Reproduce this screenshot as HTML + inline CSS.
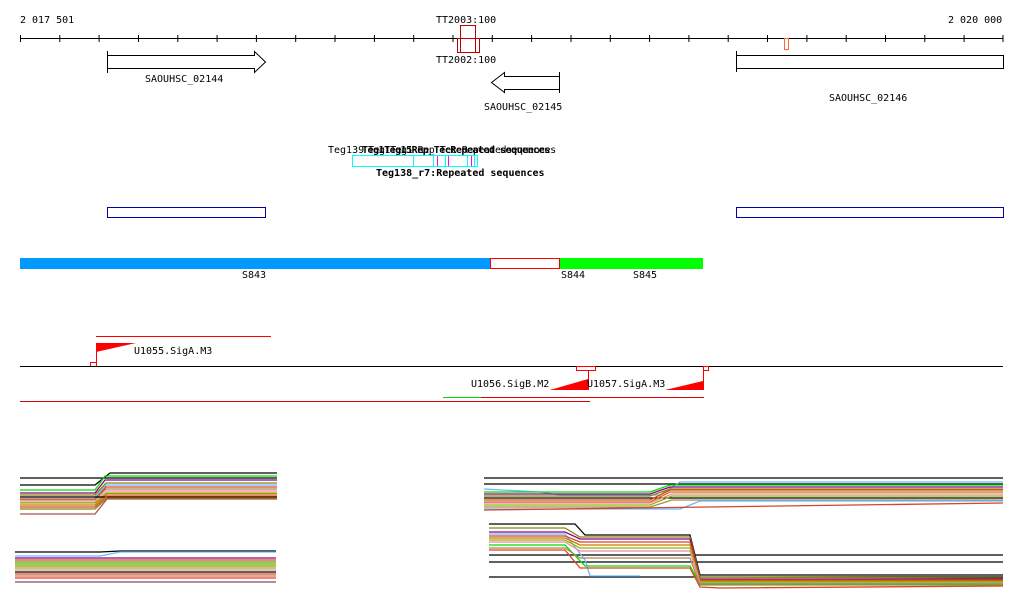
<!DOCTYPE html>
<html><head><meta charset="utf-8"><style>
html,body{margin:0;padding:0;background:#fff;}
svg{display:block;}
text{font-family:"DejaVu Sans Mono","Liberation Mono",monospace;font-size:10px;fill:#000;}
</style></head><body>
<svg width="1024" height="611" viewBox="0 0 1024 611" xmlns="http://www.w3.org/2000/svg">
<text x="20" y="23">2 017 501</text>
<text x="948" y="23">2 020 000</text>
<text x="436" y="23">TT2003:100</text>
<text x="436" y="63">TT2002:100</text>
<line x1="20" y1="38.5" x2="1003" y2="38.5" stroke="#000"/>
<g stroke="#000">
<path d="M20.5 35v7M59.8 35v7M99.1 35v7M138.5 35v7M177.8 35v7M217.1 35v7M256.4 35v7M295.7 35v7M335 35v7M374.4 35v7M413.7 35v7M453 35v7M492.3 35v7M531.6 35v7M571 35v7M610.3 35v7M649.6 35v7M688.9 35v7M728.2 35v7M767.5 35v7M806.9 35v7M846.2 35v7M885.5 35v7M924.8 35v7M964.1 35v7M1003 35v7"/>
</g>
<rect x="460.5" y="25.5" width="15" height="27" fill="none" stroke="#b00" />
<rect x="457.5" y="38.5" width="22" height="14" fill="none" stroke="#b00" />
<rect x="784.5" y="38.5" width="4" height="11" fill="none" stroke="#f63" />
<!-- genes -->
<path d="M107.5 51v22M107.5 55.5H255l11 6.5-11 11H107.5" fill="none" stroke="#000" style="display:none"/>
<path d="M107.5 51v22M107.5 55.5H254.5V51.5l11 10.5-11 10.5V68.5H107.5" fill="none" stroke="#000"/>
<text x="145" y="82">SAOUHSC_02144</text>
<path d="M559.5 72v21M559.5 76.5H504.5V72.5l-13 10 13 10V89.5h55" fill="none" stroke="#000"/>
<text x="484" y="110">SAOUHSC_02145</text>
<path d="M736.5 51v21" stroke="#000"/>
<rect x="736.5" y="55.5" width="267" height="13" fill="none" stroke="#000"/>
<text x="829" y="101">SAOUHSC_02146</text>
<!-- repeats -->
<text x="328" y="153">Teg139</text>
<text x="362" y="153" style="letter-spacing:-0.5px;font-weight:bold">Teg1Teg15Rep_TecRepeated sequences</text>
<text x="368" y="153" style="letter-spacing:-0.5px">Teg1Teg1 Rep_Tec Repeatedsequences</text>
<rect x="352.5" y="155.5" width="125" height="11" fill="none" stroke="#0ff"/>
<path d="M413.5 156v10M433.5 156v10M445.5 156v10M467.5 156v10M474.5 156v10" stroke="#0ff"/>
<path d="M437.5 156v10M448.5 156v10M471.5 156v10" stroke="#f0f"/>
<text x="376" y="176" style="font-weight:bold">Teg138_r7:Repeated sequences</text>
<rect x="107.5" y="207.5" width="158" height="10" fill="none" stroke="#00a"/>
<rect x="736.5" y="207.5" width="267" height="10" fill="none" stroke="#00a"/>
<!-- operons -->
<rect x="20" y="258" width="470" height="11" fill="#0099ff"/>
<rect x="490.5" y="258.5" width="69" height="10" fill="#fff" stroke="#f00"/>
<rect x="560" y="258" width="143" height="11" fill="#00ff00"/>
<text x="242" y="278">S843</text>
<text x="561" y="278">S844</text>
<text x="633" y="278">S845</text>
<!-- promoters -->
<line x1="96" y1="336.5" x2="271" y2="336.5" stroke="#f00"/>
<line x1="96.5" y1="343" x2="96.5" y2="362" stroke="#f00"/>
<path d="M96 343h40l-40 9z" fill="#f00"/>
<rect x="90.5" y="362.5" width="6" height="4" fill="none" stroke="#f00"/>
<text x="134" y="354">U1055.SigA.M3</text>
<line x1="20" y1="366.5" x2="1003" y2="366.5" stroke="#000"/>
<rect x="576.5" y="366.5" width="19" height="4" fill="none" stroke="#f00"/>
<line x1="588.5" y1="370" x2="588.5" y2="390" stroke="#f00"/>
<path d="M550 390h38v-11z" fill="#f00"/>
<text x="471" y="387">U1056.SigB.M2</text>
<text x="587" y="387">U1057.SigA.M3</text>
<rect x="703.5" y="366.5" width="5" height="4" fill="none" stroke="#f00"/>
<line x1="703.5" y1="370" x2="703.5" y2="390" stroke="#f00"/>
<path d="M665 390h38v-9z" fill="#f00"/>
<line x1="443" y1="397.5" x2="481" y2="397.5" stroke="#0d0"/>
<line x1="481" y1="397.5" x2="704" y2="397.5" stroke="#d00"/>
<line x1="20" y1="401.5" x2="590" y2="401.5" stroke="#d00"/>
<!-- plots -->
<g fill="none" stroke-width="1.3">
<g>
<polyline stroke="#000" points="20,478 277,478"/>
<polyline stroke="#000" points="20,485 95,485 110,473 277,473"/>
<polyline stroke="#0d0" points="20,490 95,490 105,476 277,476"/>
<polyline stroke="#808" points="20,493 95,493 105,480 277,480"/>
<polyline stroke="#880" points="20,495 95,495 106,483 277,483"/>
<polyline stroke="#6bf" points="20,497 95,497 106,485 277,485"/>
<polyline stroke="#d42" points="20,499 95,499 106,487 277,487"/>
<polyline stroke="#a85" points="20,500 95,500 106,489 277,489"/>
<polyline stroke="#e8a" points="20,502 95,502 107,491 277,491"/>
<polyline stroke="#8b0" points="20,503 95,503 107,493 277,493"/>
<polyline stroke="#c70" points="20,505 95,505 107,494 277,494"/>
<polyline stroke="#000" points="20,497 277,497"/>
<polyline stroke="#d42" points="20,507 95,507 107,496 277,496"/>
<polyline stroke="#880" points="20,509 95,509 107,498 277,498"/>
<polyline stroke="#a55" points="20,514 95,514 107,499 277,499"/>
</g>
<g>
<polyline stroke="#000" points="15,552 100,552 120,551 276,551"/>
<polyline stroke="#6bf" points="15,556 100,556 120,552 276,552"/>
<polyline stroke="#808" points="15,558 276,558"/>
<polyline stroke="#d42" points="15,560 276,560"/>
<polyline stroke="#880" points="15,562 276,562"/>
<polyline stroke="#0d0" points="15,564 276,564"/>
<polyline stroke="#c70" points="15,566 276,566"/>
<polyline stroke="#8b0" points="15,568 276,568"/>
<polyline stroke="#e8a" points="15,570 276,570"/>
<polyline stroke="#000" points="15,572 276,572"/>
<polyline stroke="#d42" points="15,574 276,574"/>
<polyline stroke="#a85" points="15,576 276,576"/>
<polyline stroke="#f33" points="15,578 276,578"/>
<polyline stroke="#755" points="15,582 276,582"/>
</g>
<g>
<polyline stroke="#000" points="484,478 1003,478"/>
<polyline stroke="#000" points="484,484 1003,484"/>
<polyline stroke="#000" points="484,498 1003,498"/>
<polyline stroke="#6bf" points="484,489 540,492 560,495 660,495 680,482 1003,482"/>
<polyline stroke="#0d0" points="484,492 650,492 670,485 1003,485"/>
<polyline stroke="#808" points="484,494 650,494 670,487 1003,487"/>
<polyline stroke="#880" points="484,496 650,496 670,489 1003,489"/>
<polyline stroke="#d42" points="484,500 650,500 670,490 1003,490"/>
<polyline stroke="#c70" points="484,502 650,502 670,492 1003,492"/>
<polyline stroke="#e8a" points="484,503 650,503 672,494 1003,494"/>
<polyline stroke="#8b0" points="484,505 650,505 672,496 1003,496"/>
<polyline stroke="#a85" points="484,507 650,507 672,500 1003,500"/>
<polyline stroke="#6bf" points="484,509 680,509 700,501 1003,501"/>
<polyline stroke="#d42" points="484,510 1003,503"/>
</g>
<g>
<polyline stroke="#000" points="489,555 1003,555"/>
<polyline stroke="#000" points="489,562 1003,562"/>
<polyline stroke="#000" points="489,577 1003,577"/>
<polyline stroke="#000" points="489,524 575,524 585,535 690,535 700,575 1003,575"/>
<polyline stroke="#880" points="489,528 565,528 580,537 690,537 700,577 1003,578"/>
<polyline stroke="#808" points="489,532 565,532 580,539 690,539 700,579 1003,579"/>
<polyline stroke="#6bf" points="489,534 565,534 585,560 590,576 640,576"/>
<polyline stroke="#d42" points="489,536 565,536 580,542 690,542 700,580 1003,580"/>
<polyline stroke="#c70" points="489,538 565,538 580,545 690,545 700,581 1003,581"/>
<polyline stroke="#8b0" points="489,540 565,540 580,548 690,548 700,582 1003,582"/>
<polyline stroke="#e8a" points="489,542 565,542 580,551 690,551 700,583 1003,583"/>
<polyline stroke="#0d0" points="489,545 565,545 585,566 690,566 700,584 1003,584"/>
<polyline stroke="#a85" points="489,548 565,548 580,558 690,558 700,585 1003,585"/>
<polyline stroke="#d42" points="489,550 565,550 580,568 690,568 700,587 720,588 1003,586"/>
</g>
</g>
</svg>
</body></html>
